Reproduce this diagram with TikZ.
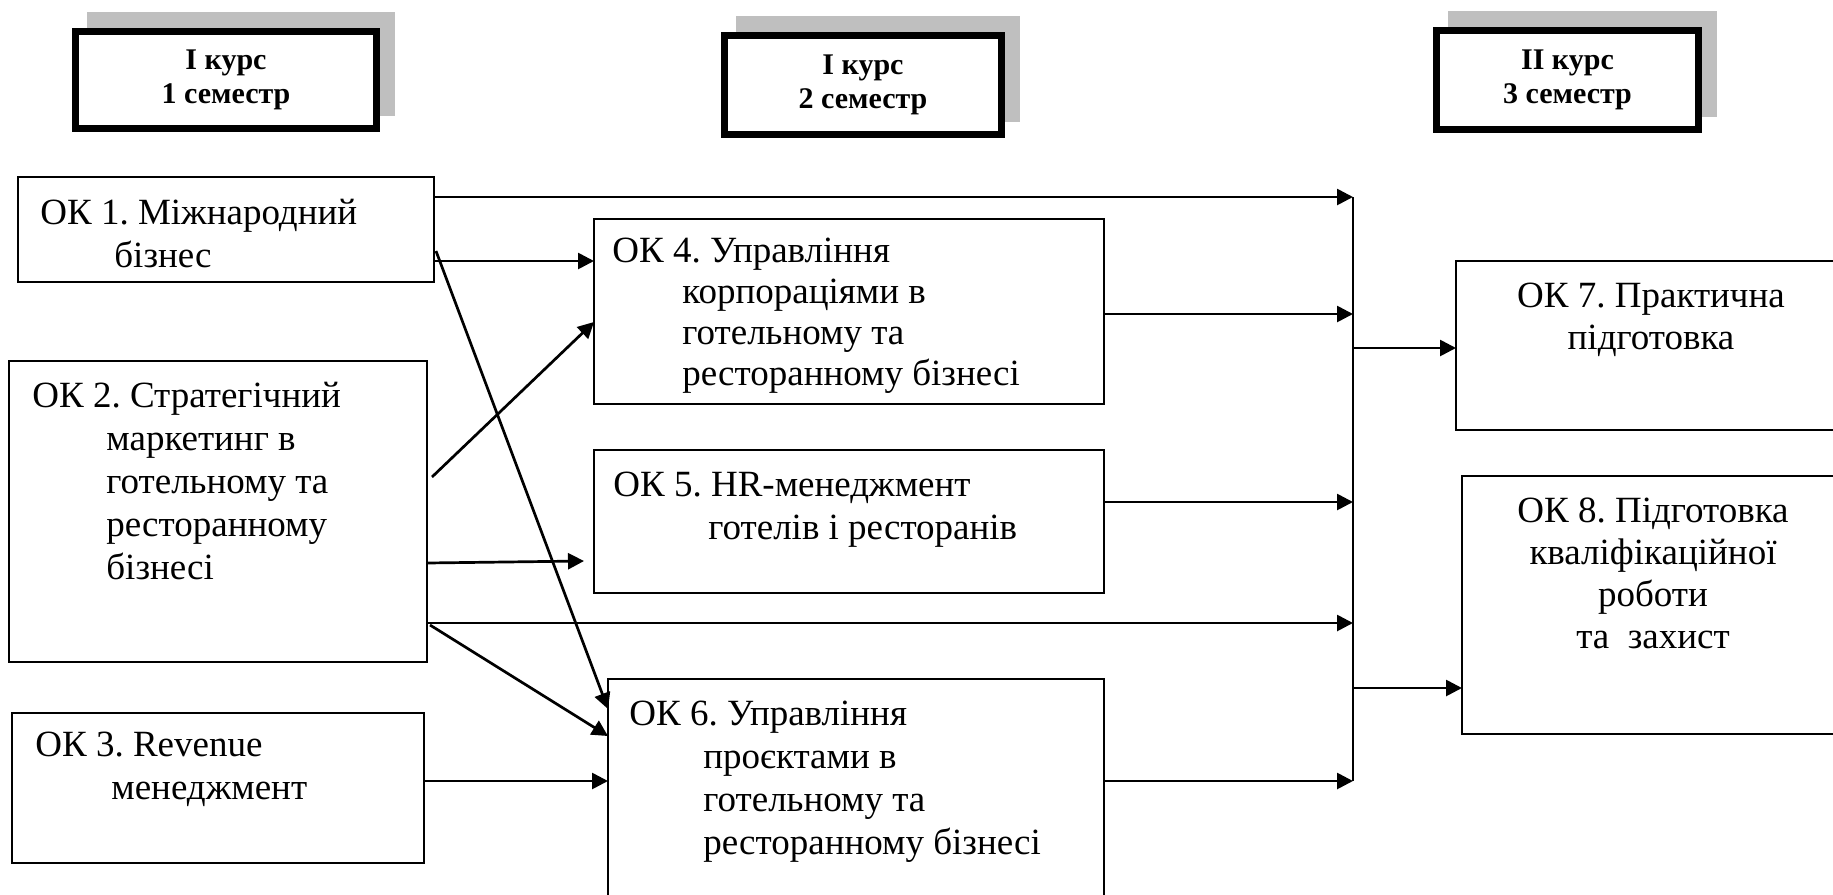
\documentclass[tikz,border=0pt]{standalone}
\usepackage{fontspec}
\setmainfont{Liberation Serif}
\frenchspacing
\usetikzlibrary{calc,arrows.meta,shadows}
\begin{document}
\begin{tikzpicture}[x=0.5pt, y=-0.5pt,
  box/.style={draw, line width=1pt, inner sep=0pt, outer sep=0pt, anchor=north west},
  txt/.style={inner sep=0pt, align=left, anchor=base west, font=\fontsize{18.5}{21.5}\selectfont},
  ctxt/.style={inner sep=0pt, align=center, anchor=base, font=\fontsize{18.5}{21}\selectfont},
  sem/.style={draw, line width=3.5pt, fill=white, inner sep=0pt, align=center,
    font=\fontsize{15}{17}\selectfont\bfseries,
    general shadow={fill=black!25, draw=black!25, line width=3.5pt, shadow xshift=7.5pt, shadow yshift=8pt}},
  arr/.style={line width=1.35pt, -{Triangle[length=8pt,width=8pt]}}]
 \def\hind{\hspace*{37pt}}
 \useasboundingbox (0,0) rectangle (1833,895);
 \node[sem, minimum width=150.5pt, minimum height=48.5pt] (sem1) at (226,80) {І курс\\1 семестр};
 \node[sem, minimum width=138.5pt, minimum height=49.5pt] (sem2) at (863,85) {І курс\\2 семестр};
 \node[sem, minimum width=131pt, minimum height=49.5pt] (sem3) at (1567.5,80) {ІІ курс\\3 семестр};
 \node[box, minimum width=208pt, minimum height=52.5pt] (ok1) at (18,177) {};
 \node[box, minimum width=209pt, minimum height=150.5pt] (ok2) at (9,361) {};
 \node[box, minimum width=206pt, minimum height=75pt] (ok3) at (12,713) {};
 \node[box, minimum width=255pt, minimum height=92.5pt] (ok4) at (594,219) {};
 \node[box, minimum width=255pt, minimum height=71.5pt] (ok5) at (594,450) {};
 \node[box, minimum width=248pt, minimum height=130.5pt] (ok6) at (608,679) {};
 \node[box, minimum width=212pt, minimum height=84.5pt] (ok7) at (1456,261) {};
 \node[box, minimum width=209pt, minimum height=129pt] (ok8) at (1462,476) {};
 % base of a multi-line node = its last line
 \node[txt] (ok1t) at (40,267) {ОК 1. Міжнародний\\\hind бізнес};
 \node[txt] (ok2t) at (32,579) {ОК 2. Стратегічний\\\hind маркетинг в\\\hind готельному та\\\hind ресторанному\\\hind бізнесі};
 \node[txt] (ok3t) at (35,799) {ОК 3. Revenue\\\hspace*{38pt}менеджмент};
 \node[txt, font=\fontsize{18.5}{20.5}\selectfont] (ok4t) at (612,385) {ОК 4. Управління\\\hspace*{35pt}корпораціями в\\\hspace*{35pt}готельному та\\\hspace*{35pt}ресторанному бізнесі};
 \node[txt] (ok5t) at (613,539) {ОК 5. HR-менеджмент\\\hspace*{47.5pt}готелів і ресторанів};
 \node[txt] (ok6t) at (629,854) {ОК 6. Управління\\\hind проєктами в\\\hind готельному та\\\hind ресторанному бізнесі};
 \node[ctxt] (ok7t) at (1651,349) {ОК 7. Практична\\підготовка};
 \node[ctxt] (ok8t) at (1653,648) {ОК 8. Підготовка\\кваліфікаційної\\роботи\\та\ \ захист};
 \coordinate (bustop) at (1353,197);
 \coordinate (busbot) at (1353,781);
 \draw[line width=1.1pt] (bustop) -- (busbot);
 \draw[arr] ($(ok1.north east)+(0,20)$) -- (bustop);
 \draw[arr] ($(ok1.north east)+(0,84)$) -- ($(ok4.north west)+(0,42)$);
 \draw[arr] ($(ok1.north east)+(2,74)$) -- ($(ok6.north west)+(0,30)$);
 \draw[arr] ($(ok2.north east)+(5,116)$) -- ($(ok4.north west)+(0,103)$);
 \draw[arr] ($(ok2.north east)+(0,202)$) -- ($(ok5.north west)+(-10,111)$);
 \draw[arr] ($(ok2.north east)+(0,262)$) coordinate (c2) -- (bustop |- c2);
 \draw[arr] ($(ok2.north east)+(3,264)$) -- ($(ok6.north west)+(0,57)$);
 \draw[arr] ($(ok3.north east)+(0,68)$) -- ($(ok6.north west)+(0,102)$);
 \draw[arr] ($(ok4.north east)+(0,95)$) coordinate (c4) -- (bustop |- c4);
 \draw[arr] ($(ok5.north east)+(0,52)$) coordinate (c5) -- (bustop |- c5);
 \draw[arr] ($(ok6.north east)+(0,102)$) -- (busbot);
 \coordinate (in7) at ($(ok7.north west)+(0,87)$);
 \coordinate (in8) at ($(ok8.north west)+(0,212)$);
 \draw[arr] (bustop |- in7) -- (in7);
 \draw[arr] (bustop |- in8) -- (in8);
\end{tikzpicture}
\end{document}
